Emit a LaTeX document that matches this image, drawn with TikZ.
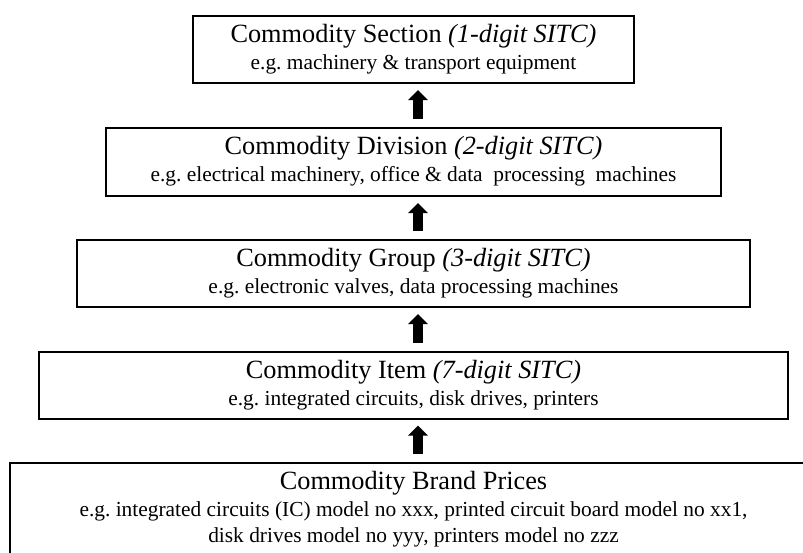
\documentclass[tikz,border=0pt]{standalone}
\usepackage{fontspec}
\setmainfont{Liberation Serif}
\usetikzlibrary{arrows.meta}
\frenchspacing
\begin{document}
\begin{tikzpicture}[x=1pt,y=-1pt,
  box/.style={draw=black,line width=2pt,inner sep=0pt},
  ttl/.style={anchor=base,inner sep=0pt,font=\fontsize{26.3}{30}\selectfont},
  sub/.style={anchor=base,inner sep=0pt,font=\fontsize{21.4}{26}\selectfont,align=center},
  uparrow/.style={line width=10pt,-{Triangle[width=19pt,length=10pt]},black}]
\useasboundingbox (0,0) rectangle (803,552);
\clip (0,0) rectangle (803,552);
% boxes
\node[box,minimum width=441pt,minimum height=67pt] (b1) at (413.5,49.5) {};
\node[box,minimum width=615pt,minimum height=68pt] (b2) at (413.5,162) {};
\node[box,minimum width=673pt,minimum height=67pt] (b3) at (413.5,273.5) {};
\node[box,minimum width=749pt,minimum height=66.5pt] (b4) at (413.5,385.25) {};
\node[box,minimum width=807pt,minimum height=110pt] (b5) at (413.5,518) {};
% texts
\node[ttl] (t1) at ([yshift=-27pt]b1.north) {Commodity Section \textit{(1-digit SITC)}};
\node[sub] (s1) at ([yshift=-54pt]b1.north) {e.g. machinery \& transport equipment};
\node[ttl] (t2) at ([yshift=-27pt]b2.north) {Commodity Division \textit{(2-digit SITC)}};
\node[sub] (s2) at ([yshift=-54pt]b2.north) {e.g. electrical machinery, office \& data\ \ processing\ \ machines};
\node[ttl] (t3) at ([yshift=-27pt]b3.north) {Commodity Group \textit{(3-digit SITC)}};
\node[sub] (s3) at ([yshift=-54pt]b3.north) {e.g. electronic valves, data processing machines};
\node[ttl] (t4) at ([yshift=-27pt]b4.north) {Commodity Item \textit{(7-digit SITC)}};
\node[sub] (s4) at ([yshift=-54pt]b4.north) {e.g. integrated circuits, disk drives, printers};
\node[ttl] (t5) at ([yshift=-27pt]b5.north) {Commodity Brand Prices};
\node[sub] (s5) at ([yshift=-80pt]b5.north) {e.g. integrated circuits (IC) model no xxx, printed circuit board model no xx1,\\disk drives model no yyy, printers model no zzz};
% arrows
\draw[uparrow] ([xshift=4.5pt,yshift=8pt]b2.north) -- ([xshift=4.5pt,yshift=-6pt]b1.south);
\draw[uparrow] ([xshift=4.5pt,yshift=8pt]b3.north) -- ([xshift=4.5pt,yshift=-6pt]b2.south);
\draw[uparrow] ([xshift=4.5pt,yshift=8pt]b4.north) -- ([xshift=4.5pt,yshift=-6pt]b3.south);
\draw[uparrow] ([xshift=4.5pt,yshift=8pt]b5.north) -- ([xshift=4.5pt,yshift=-6pt]b4.south);
\end{tikzpicture}
\end{document}
